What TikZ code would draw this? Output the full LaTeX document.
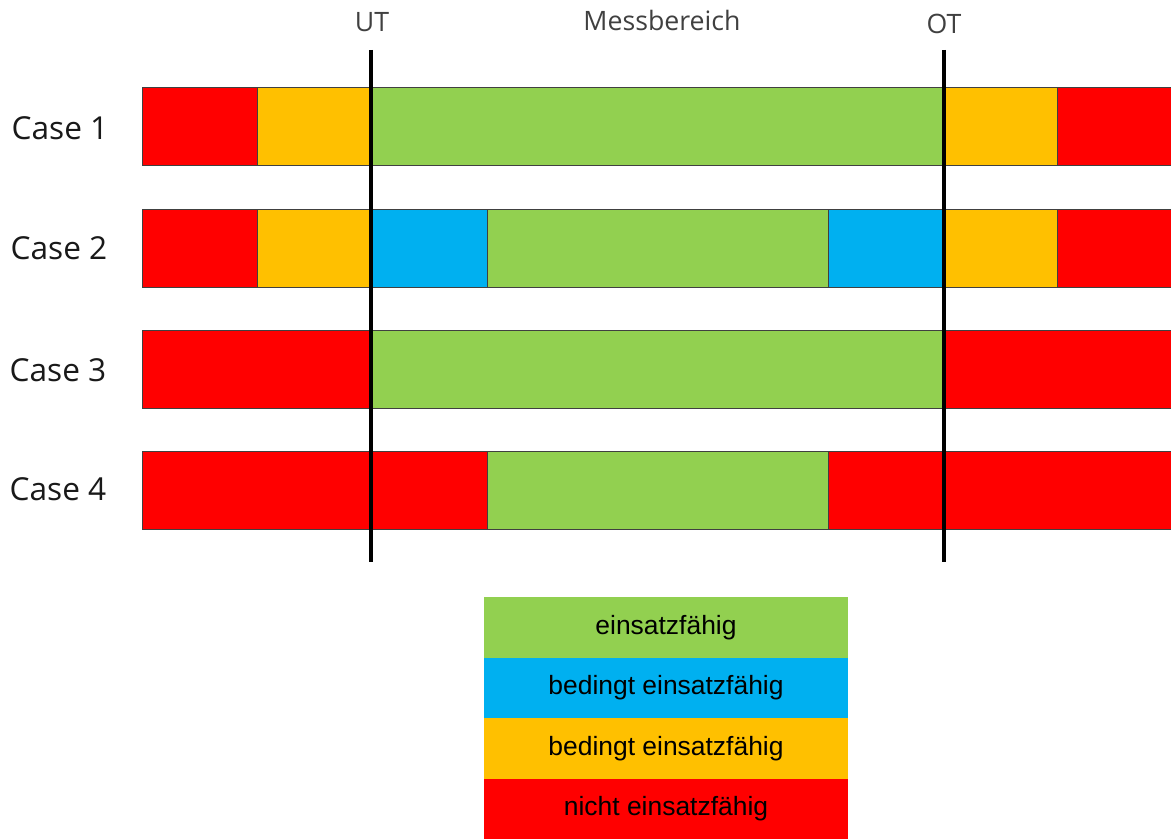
\documentclass[tikz,border=0pt]{standalone}
\usepackage{fontspec}
\setmainfont{Open Sans}
\newfontfamily\legendfont{Liberation Sans}
\usetikzlibrary{positioning}
\definecolor{okgreen}{HTML}{92D050}
\definecolor{condblue}{HTML}{00B0F0}
\definecolor{condorange}{HTML}{FFC000}
\definecolor{nogored}{HTML}{FF0000}

\begin{document}
\begin{tikzpicture}[x=0.025cm,y=-0.025cm,
  seg/.style={draw=black!75,line width=0.6pt},
  limit/.style={line width=2.4pt,black},
  caselabel/.style={font=\fontsize{22.5}{26}\selectfont,text=black!90},
  toplabel/.style={font=\fontsize{19}{23}\selectfont,text=black!75},
  legendrow/.style={font=\legendfont\fontsize{18.8}{22}\selectfont,minimum width=9.1cm,
    minimum height=1.5125cm,inner sep=0pt,outer sep=0pt}]
\useasboundingbox (0,0) rectangle (1171,839);
\clip (0,0) rectangle (1171,839);

% Case 1
\filldraw[seg,fill=nogored] (142,87) rectangle (257,165);
\filldraw[seg,fill=condorange] (257,87) rectangle (371,165);
\filldraw[seg,fill=okgreen] (371,87) rectangle (944,165);
\filldraw[seg,fill=condorange] (944,87) rectangle (1057,165);
\filldraw[seg,fill=nogored] (1057,87) rectangle (1180,165);
% Case 2
\filldraw[seg,fill=nogored] (142,209) rectangle (257,287);
\filldraw[seg,fill=condorange] (257,209) rectangle (371,287);
\filldraw[seg,fill=condblue] (371,209) rectangle (487,287);
\filldraw[seg,fill=okgreen] (487,209) rectangle (828,287);
\filldraw[seg,fill=condblue] (828,209) rectangle (944,287);
\filldraw[seg,fill=condorange] (944,209) rectangle (1057,287);
\filldraw[seg,fill=nogored] (1057,209) rectangle (1180,287);
% Case 3
\filldraw[seg,fill=nogored] (142,330) rectangle (371,408);
\filldraw[seg,fill=okgreen] (371,330) rectangle (944,408);
\filldraw[seg,fill=nogored] (944,330) rectangle (1180,408);
% Case 4
\filldraw[seg,fill=nogored] (142,451) rectangle (371,529);
\filldraw[seg,fill=nogored] (371,451) rectangle (487,529);
\filldraw[seg,fill=okgreen] (487,451) rectangle (828,529);
\filldraw[seg,fill=nogored] (828,451) rectangle (944,529);
\filldraw[seg,fill=nogored] (944,451) rectangle (1180,529);

\node[caselabel] (case1) at (60,128) {Case 1};
\node[caselabel] (case2) at (59,248) {Case 2};
\node[caselabel] (case3) at (58,370) {Case 3};
\node[caselabel] (case4) at (58,489) {Case 4};

\node[toplabel] (ut) at (372,22) {UT};
\node[toplabel] (mess) at (662,20) {Messbereich};
\node[toplabel] (ot) at (944,24) {OT};

\coordinate (uttop) at (371,50);
\coordinate (utbot) at (371,562);
\coordinate (ottop) at (944,50);
\coordinate (otbot) at (944,562);
\draw[limit] (uttop) -- (utbot);
\draw[limit] (ottop) -- (otbot);

% Legende
\node[legendrow,fill=okgreen] (lg1) at (666,627.25) {einsatzfähig};
\node[legendrow,fill=condblue,below=0pt of lg1] (lg2) {bedingt einsatzfähig};
\node[legendrow,fill=condorange,below=0pt of lg2] (lg3) {bedingt einsatzfähig};
\node[legendrow,fill=nogored,below=0pt of lg3] (lg4) {nicht einsatzfähig};
\end{tikzpicture}
\end{document}
